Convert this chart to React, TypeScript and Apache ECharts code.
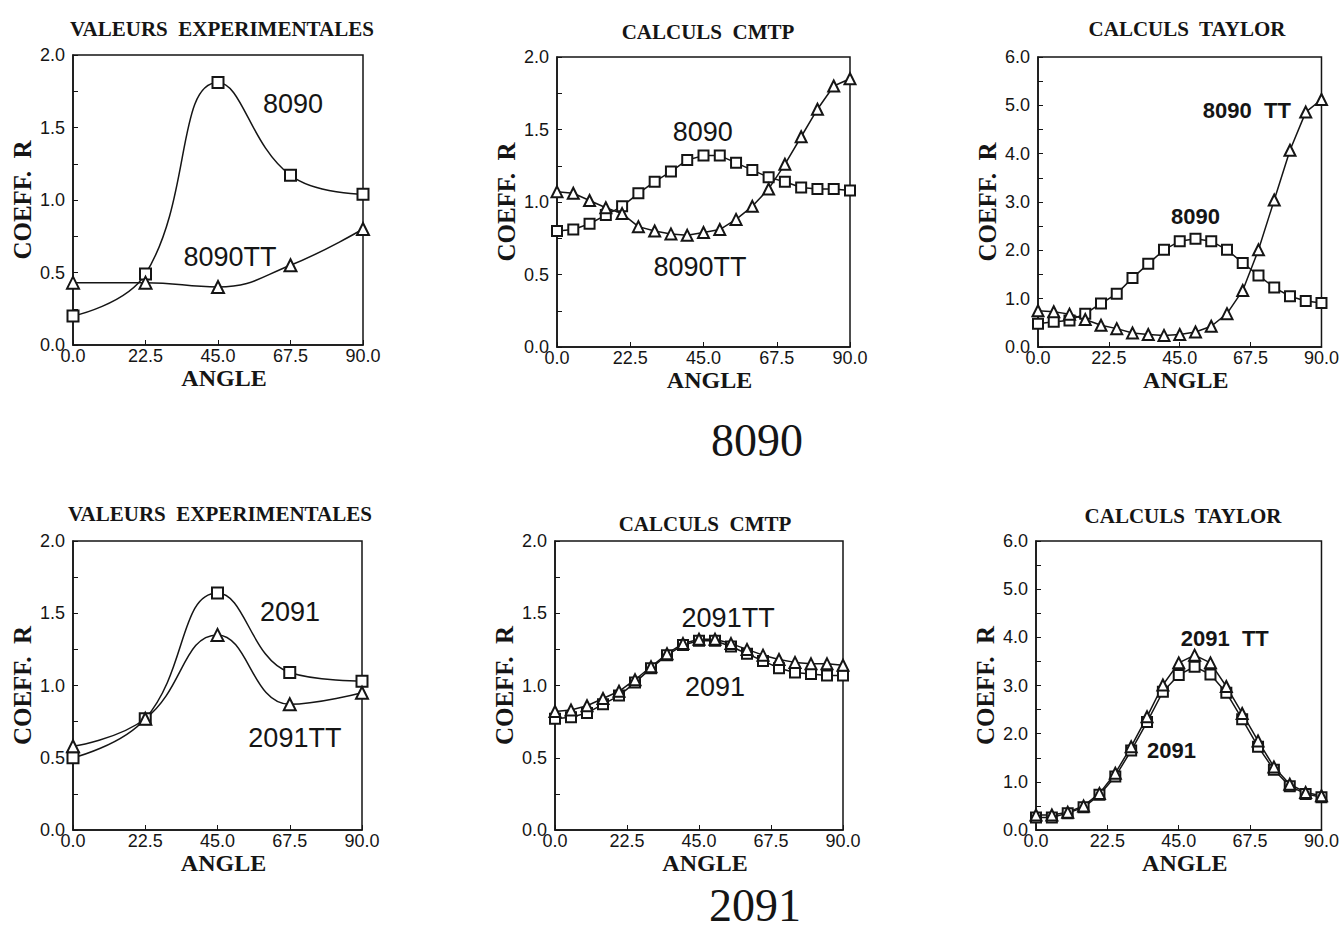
import React, { useEffect, useRef } from "react";
import * as echarts from "echarts";

// ---------- data ----------
const ANGLES_EXP = [0, 22.5, 45, 67.5, 90];
const ANGLES_CALC = [0, 5, 10, 15, 20, 25, 30, 35, 40, 45, 50, 55, 60, 65, 70, 75, 80, 85, 90];

const EXP_8090 = [0.2, 0.49, 1.81, 1.17, 1.04];
const EXP_8090TT = [0.43, 0.43, 0.4, 0.55, 0.8];
const CMTP_8090 = [0.8, 0.81, 0.85, 0.91, 0.97, 1.06, 1.14, 1.21, 1.29, 1.32, 1.32, 1.27, 1.22, 1.17, 1.14, 1.1, 1.09, 1.09, 1.08];
const CMTP_8090TT = [1.07, 1.06, 1.01, 0.96, 0.92, 0.83, 0.8, 0.78, 0.77, 0.79, 0.81, 0.88, 0.97, 1.09, 1.26, 1.45, 1.64, 1.8, 1.85];
const TAYLOR_8090 = [0.48, 0.52, 0.55, 0.69, 0.9, 1.1, 1.43, 1.72, 2.01, 2.19, 2.24, 2.19, 2.01, 1.74, 1.48, 1.23, 1.05, 0.95, 0.91];
const TAYLOR_8090TT = [0.75, 0.73, 0.68, 0.57, 0.45, 0.38, 0.29, 0.26, 0.24, 0.26, 0.31, 0.43, 0.69, 1.17, 2.01, 3.04, 4.07, 4.86, 5.12];

const EXP_2091 = [0.5, 0.77, 1.64, 1.09, 1.03];
const EXP_2091TT = [0.58, 0.77, 1.35, 0.87, 0.95];
const CMTP_2091 = [0.77, 0.78, 0.81, 0.87, 0.93, 1.02, 1.12, 1.21, 1.28, 1.31, 1.31, 1.27, 1.22, 1.17, 1.12, 1.09, 1.08, 1.07, 1.07];
const CMTP_2091TT = [0.82, 0.83, 0.86, 0.91, 0.96, 1.04, 1.13, 1.22, 1.29, 1.32, 1.32, 1.29, 1.25, 1.21, 1.18, 1.16, 1.15, 1.15, 1.14];
const TAYLOR_2091 = [0.26, 0.26, 0.35, 0.47, 0.73, 1.11, 1.65, 2.24, 2.87, 3.22, 3.39, 3.23, 2.85, 2.3, 1.73, 1.25, 0.91, 0.75, 0.68];
const TAYLOR_2091TT = [0.31, 0.31, 0.37, 0.5, 0.76, 1.18, 1.73, 2.35, 3.01, 3.47, 3.63, 3.47, 2.98, 2.42, 1.85, 1.31, 0.95, 0.78, 0.71];

const PANEL_TITLES = [
  "VALEURS  EXPERIMENTALES",
  "CALCULS  CMTP",
  "CALCULS  TAYLOR",
  "VALEURS  EXPERIMENTALES",
  "CALCULS  CMTP",
  "CALCULS  TAYLOR",
];
const X_TICKS = { min: 0, max: 90, interval: 22.5 };
const Y_MAX = [2, 2, 6, 2, 2, 6];
const Y_INTERVAL = [0.5, 0.5, 1, 0.5, 0.5, 1];
const GROUP_LABELS = ["8090", "2091"];

// curve annotations (data coordinates)
const LABEL_8090_EXP = [68.3, 1.66];
const LABEL_8090TT_EXP = [48.7, 0.61];
const LABEL_8090_CMTP = [44.8, 1.48];
const LABEL_8090TT_CMTP = [43.9, 0.55];
const LABEL_8090TT_TAYLOR = [66.3, 4.9];
const LABEL_8090_TAYLOR = [50, 2.71];
const LABEL_2091_EXP = [67.6, 1.51];
const LABEL_2091TT_EXP = [69.1, 0.64];
const LABEL_2091TT_CMTP = [54.1, 1.47];
const LABEL_2091_CMTP = [50, 0.99];
const LABEL_2091TT_TAYLOR = [59.5, 3.98];
const LABEL_2091_TAYLOR = [42.7, 1.66];

// ---------- layout ----------
const GRIDS = [
  { left: 73, top: 55, width: 290, height: 290 },
  { left: 557, top: 57, width: 293, height: 290 },
  { left: 1038, top: 57, width: 288, height: 290 },
  { left: 73, top: 541, width: 289, height: 289 },
  { left: 555, top: 541, width: 288, height: 289 },
  { left: 1036, top: 541, width: 289, height: 289 },
];
const TITLE_POS = [
  { x: 217, y: 13 },
  { x: 703, y: 16 },
  { x: 1182, y: 13 },
  { x: 215, y: 498 },
  { x: 700, y: 508 },
  { x: 1178, y: 500 },
];
const GROUP_LABEL_POS = [
  { x: 757, y: 440 },
  { x: 755, y: 905 },
];

const SERIF = "'Liberation Serif', 'Times New Roman', serif";
const SANS = "'Liberation Sans', Arial, sans-serif";
const INK = "#151515";

function makeSeries(
  grid: number,
  xs: number[],
  ys: number[],
  symbol: string,
  size: number,
  smooth: boolean,
  label: number[],
  text: string,
  bold: boolean
) {
  return {
    type: "line",
    xAxisIndex: grid,
    yAxisIndex: grid,
    data: xs.map((x, i) => [x, ys[i]]),
    symbol,
    symbolSize: size,
    smooth: smooth ? 0.45 : false,
    clip: false,
    lineStyle: { color: INK, width: 1.5 },
    itemStyle: { color: INK, borderColor: INK, borderWidth: 1.4 },
    markPoint: {
      symbol: "rect",
      symbolSize: 1,
      itemStyle: { color: "rgba(0,0,0,0)" },
      label: {
        show: true,
        position: "inside",
        formatter: text,
        color: INK,
        fontFamily: SANS,
        fontSize: bold ? 22 : 27,
        fontWeight: bold ? "bold" : "normal",
      },
      data: [{ coord: label }],
    },
  };
}

export default function App() {
  const ref = useRef<HTMLDivElement>(null);

  useEffect(() => {
    if (!ref.current) return;
    const chart = echarts.init(ref.current, null, { renderer: "svg" });

    const grid = GRIDS.map((g) => ({
      ...g,
      show: true,
      borderColor: INK,
      borderWidth: 1.5,
      backgroundColor: "transparent",
      containLabel: false,
    }));

    const xAxis = GRIDS.map((_, i) => ({
      type: "value",
      gridIndex: i,
      min: X_TICKS.min,
      max: X_TICKS.max,
      interval: X_TICKS.interval,
      name: "ANGLE",
      nameLocation: "middle",
      nameGap: 18,
      nameTextStyle: {
        fontFamily: SERIF,
        fontWeight: "bold",
        fontSize: 24,
        color: INK,
        verticalAlign: "top",
        padding: [0, 0, 0, 12],
      },
      axisLine: { show: true, lineStyle: { color: INK, width: 1.5 } },
      axisTick: { show: true, inside: true, length: 5, lineStyle: { color: INK } },
      axisLabel: {
        show: true,
        margin: 2,
        fontFamily: SANS,
        fontSize: 18,
        color: INK,
        formatter: (v: number) => v.toFixed(1),
      },
      splitLine: { show: false },
    }));

    const yAxis = GRIDS.map((_, i) => ({
      type: "value",
      gridIndex: i,
      min: 0,
      max: Y_MAX[i],
      interval: Y_INTERVAL[i],
      name: "COEFF.  R",
      nameLocation: "middle",
      nameGap: 38,
      nameRotate: 90,
      nameTextStyle: {
        fontFamily: SERIF,
        fontWeight: "bold",
        fontSize: 25,
        color: INK,
      },
      axisLine: { show: true, lineStyle: { color: INK, width: 1.5 } },
      axisTick: { show: true, inside: true, length: 5, lineStyle: { color: INK } },
      minorTick: { show: true, splitNumber: 2, length: 5, lineStyle: { color: INK } },
      axisLabel: {
        show: true,
        margin: 8,
        fontFamily: SANS,
        fontSize: 18,
        color: INK,
        formatter: (v: number) => v.toFixed(1),
      },
      splitLine: { show: false },
      minorSplitLine: { show: false },
    }));

    const title = PANEL_TITLES.map((t, i) => ({
      text: t,
      left: TITLE_POS[i].x,
      top: TITLE_POS[i].y,
      textAlign: "center",
      textStyle: {
        fontFamily: SERIF,
        fontWeight: "bold",
        fontSize: 21,
        color: INK,
      },
    }));

    const series = [
      makeSeries(0, ANGLES_EXP, EXP_8090, "emptyRect", 11, true, LABEL_8090_EXP, "8090", false),
      makeSeries(0, ANGLES_EXP, EXP_8090TT, "emptyTriangle", 12, true, LABEL_8090TT_EXP, "8090TT", false),
      makeSeries(1, ANGLES_CALC, CMTP_8090, "emptyRect", 10, false, LABEL_8090_CMTP, "8090", false),
      makeSeries(1, ANGLES_CALC, CMTP_8090TT, "emptyTriangle", 11, false, LABEL_8090TT_CMTP, "8090TT", false),
      makeSeries(2, ANGLES_CALC, TAYLOR_8090, "emptyRect", 10, false, LABEL_8090_TAYLOR, "8090", true),
      makeSeries(2, ANGLES_CALC, TAYLOR_8090TT, "emptyTriangle", 11, false, LABEL_8090TT_TAYLOR, "8090  TT", true),
      makeSeries(3, ANGLES_EXP, EXP_2091, "emptyRect", 11, true, LABEL_2091_EXP, "2091", false),
      makeSeries(3, ANGLES_EXP, EXP_2091TT, "emptyTriangle", 12, true, LABEL_2091TT_EXP, "2091TT", false),
      makeSeries(4, ANGLES_CALC, CMTP_2091, "emptyRect", 10, false, LABEL_2091_CMTP, "2091", false),
      makeSeries(4, ANGLES_CALC, CMTP_2091TT, "emptyTriangle", 11, false, LABEL_2091TT_CMTP, "2091TT", false),
      makeSeries(5, ANGLES_CALC, TAYLOR_2091, "emptyRect", 10, false, LABEL_2091_TAYLOR, "2091", true),
      makeSeries(5, ANGLES_CALC, TAYLOR_2091TT, "emptyTriangle", 11, false, LABEL_2091TT_TAYLOR, "2091  TT", true),
    ];

    const graphic = GROUP_LABELS.map((t, i) => ({
      type: "text",
      x: GROUP_LABEL_POS[i].x,
      y: GROUP_LABEL_POS[i].y,
      style: {
        text: t,
        fontFamily: SERIF,
        fontSize: 46,
        fill: INK,
        textAlign: "center",
        textVerticalAlign: "middle",
      },
    }));

    chart.setOption({
      animation: false,
      backgroundColor: "#ffffff",
      title,
      grid,
      xAxis,
      yAxis,
      series,
      graphic,
    });

    return () => chart.dispose();
  }, []);

  return (
    <div
      ref={ref}
      style={{ position: "absolute", left: 0, top: 0, width: 1342, height: 947, background: "#fff" }}
    />
  );
}
